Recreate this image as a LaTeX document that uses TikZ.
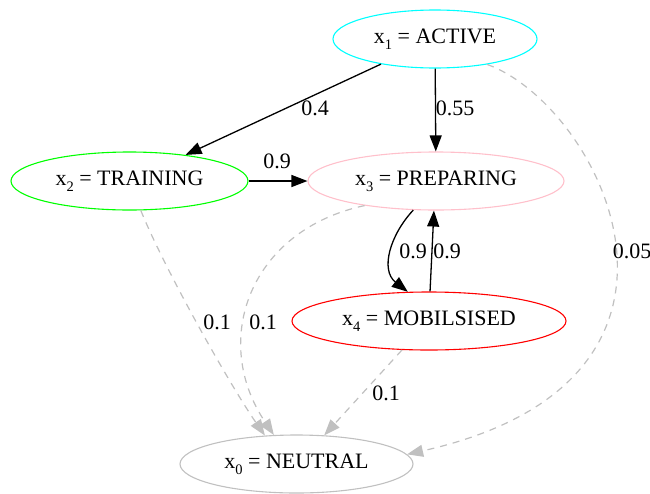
\documentclass[tikz,border=0pt]{standalone}
\usepackage{fontspec}
\setmainfont{Liberation Serif}
\usetikzlibrary{arrows.meta,shapes.geometric}
\definecolor{silvergray}{HTML}{C0C0C0}
\definecolor{pinkc}{RGB}{255,192,203}
\definecolor{cyanc}{RGB}{0,255,255}
\definecolor{greenc}{RGB}{0,255,0}
\definecolor{redc}{RGB}{255,0,0}
\newcommand{\xs}[1]{x\raisebox{-6pt}{\fontsize{14.5}{14.5}\selectfont #1}}
\tikzset{
  state/.style={ellipse, draw, line width=1.1pt, minimum height=58pt, inner sep=0pt, text height=14pt, text depth=5pt, font=\fontsize{22}{24}\selectfont},
  edge/.style={line width=1.3pt, -{Triangle[length=16pt,width=12pt]}},
  weak/.style={line width=1.2pt, silvergray, dash pattern=on 7pt off 6pt, -{Triangle[length=16pt,width=12pt]}},
  lbl/.style={inner sep=0pt, font=\fontsize{22}{24}\selectfont}
}
\begin{document}
\begin{tikzpicture}[x=1pt,y=-1pt]
\useasboundingbox (0,0) rectangle (650,493);
\node[state, cyanc, minimum width=204pt, text=black] (x1) at (435,39) {\xs{1} = ACTIVE};
\node[state, greenc, minimum width=237pt, text=black] (x2) at (129.5,181) {\xs{2} = TRAINING};
\node[state, pinkc, minimum width=256pt, text=black] (x3) at (436,181) {\xs{3} = PREPARING};
\node[state, redc, minimum width=274pt, text=black] (x4) at (429,321) {\xs{4} = MOBILSISED};
\node[state, silvergray, minimum width=233pt, text=black] (x0) at (296.5,464) {\xs{0} = NEUTRAL};

\draw[edge] (x1) -- (x2);
\draw[edge] (x1) -- (x3);
\draw[edge] (x2) -- (x3);
\draw[edge] (x3.-128) .. controls (390,235) and (380,270) .. (x4.126);
\draw[edge] (x4.88) -- (x3.-94);
\draw[weak] (x1.-26) .. controls (600,105) and (740,380) .. (x0.5);
\draw[weak] (x2.-69) .. controls (165,270) and (230,385) .. (x0.138);
\draw[weak] (x3.199) .. controls (250,230) and (210,340) .. (x0.128);
\draw[weak] (x4.-133) -- (x0.46);

\node[lbl] (l14) at (315,108) {0.4};
\node[lbl] (l13) at (455,108) {0.55};
\node[lbl] (l10) at (632,251) {0.05};
\node[lbl] (l23) at (277,161) {0.9};
\node[lbl] (l20) at (217,322) {0.1};
\node[lbl] (l30) at (263,322) {0.1};
\node[lbl] (l34) at (413,251) {0.9};
\node[lbl] (l43) at (447,251) {0.9};
\node[lbl] (l40) at (386,393) {0.1};
\end{tikzpicture}
\end{document}
